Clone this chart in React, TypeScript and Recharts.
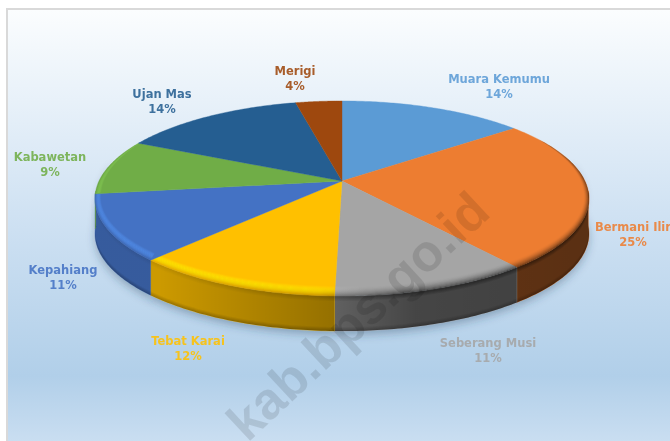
import React from "react";
import { PieChart, Pie } from "recharts";

const categories = ["Muara Kemumu", "Bermani Ilir", "Seberang Musi", "Tebat Karai", "Kepahiang", "Kabawetan", "Ujan Mas", "Merigi"];
const shares = [14.4, 25.0, 11.0, 11.6, 10.9, 9.2, 14.3, 3.6];
const colors = ["#5b9bd5", "#ed7d31", "#a5a5a5", "#ffc000", "#4472c4", "#70ad47", "#255e91", "#9e480e"];
const rimColors = ["#6fb0e8", "#ff9a4a", "#b8b8b8", "#ffe600", "#4f8ae6", "#7fc450", "#2f73ae", "#b55a18"];
const rows = categories.map((name, i) => ({ name, value: shares[i], fill: colors[i], rim: rimColors[i] }));

const W = 670, H = 441;
const CX = 342, CY = 181, R = 243;
const PERSPECTIVE = 0.1795, TILT = 0.3885, WALL = 35;
// Excel-style "best fit" label centres, one per category
const labelSpots: [number, number][] = [[499, 79], [633, 227], [488, 343], [188, 341], [63, 270], [50, 157], [162, 94], [295, 71]];

const project = (p: any, deg: number, r = 1, dy = 0): [number, number] => {
  const a = (deg * Math.PI) / 180;
  const s = Math.sin(a), c = Math.cos(a);
  const den = 1 + PERSPECTIVE * r * c;
  return [p.cx + (p.outerRadius * r * s) / den, p.cy - (p.outerRadius * TILT * r * c) / den + dy];
};
const sweep = (from: number, to: number, n = 48) => Array.from({ length: n + 1 }, (_, i) => from + ((to - from) * i) / n);
const toPath = (pts: [number, number][]) => "M" + pts.map((q) => q[0].toFixed(2) + " " + q[1].toFixed(2)).join("L") + "Z";
const frontWeight = (deg: number) => Math.min(1, Math.max(0, (0.5 - Math.cos((deg * Math.PI) / 180)) / 0.6));
const inset = (p: any, deg: number, amount: number): [number, number] => {
  const a = (deg * Math.PI) / 180;
  const [x, y] = project(p, deg);
  const w = frontWeight(deg) * amount;
  return [x - Math.sin(a) * 6 * w, y + Math.cos(a) * 10 * w];
};

const angles = (p: any) => [90 - p.startAngle, 90 - p.endAngle];

const ShadowShape = (p: any) => {
  const [a, b] = angles(p);
  const from = Math.max(a, 80), to = Math.min(b, 280);
  if (to <= from) return <g />;
  const outer = sweep(from, to).map((d) => project(p, d, 1.0, WALL + 4));
  const inner = sweep(to, from).map((d) => project(p, d, 0.98, 0));
  return <path d={toPath([...outer, ...inner])} fill="#24425f" fillOpacity={0.35} filter="url(#pieBlur)" />;
};

const WallShape = (p: any) => {
  const [a, b] = angles(p);
  const from = Math.max(a, 96), to = Math.min(b, 264);
  if (to <= from) return <g />;
  const d = toPath([...sweep(from, to).map((t) => project(p, t)), ...sweep(to, from).map((t) => project(p, t, 1, WALL))]);
  const foot = [0, 1, 2, 3].map((i) =>
    toPath([...sweep(from, to).map((t) => project(p, t, 1, WALL - 4 + i)), ...sweep(to, from).map((t) => project(p, t, 1, WALL - 3 + i))])
  );
  return (
    <g>
      <path d={d} fill={p.fill} stroke={p.fill} strokeWidth={0.4} />
      <path d={d} fill="url(#wallShade)" />
      {foot.map((f, i) => <path key={i} d={f} fill="#000" fillOpacity={0.05 + i * 0.06} />)}
    </g>
  );
};

const TopShape = (p: any) => {
  const [a, b] = angles(p);
  const arc = sweep(a, b, 72);
  const top = toPath([[p.cx, p.cy], ...arc.map((t) => project(p, t))]);
  const strips = 10;
  const ring = (u0: number, u1: number) =>
    toPath([...arc.map((t) => inset(p, t, 1 - u0)), ...[...arc].reverse().map((t) => inset(p, t, 1 - u1))]);
  const lip = (t0: number, t1: number) => {
    const f = Math.max(a, 96), g = Math.min(b, 264);
    if (g <= f) return "";
    const s = sweep(f, g);
    return toPath([...s.map((t) => project(p, t, 1, t0 * frontWeight(t))), ...[...s].reverse().map((t) => project(p, t, 1, t1 * frontWeight(t)))]);
  };
  const gid = "rimGlow" + p.index;
  return (
    <g>
      <defs>
        <linearGradient id={gid} gradientUnits="userSpaceOnUse" x1={95} x2={588} y1={0} y2={0}>
          <stop offset="0" stopColor={p.rim} stopOpacity={1} />
          <stop offset="0.45" stopColor={p.rim} stopOpacity={0.8} />
          <stop offset="0.55" stopColor={p.rim} stopOpacity={0} />
        </linearGradient>
      </defs>
      <path d={top} fill={p.fill} stroke={p.fill} strokeWidth={0.4} />
      {Array.from({ length: strips }, (_, i) => {
        const u0 = i / strips, u1 = (i + 1) / strips, u = (u0 + u1) / 2;
        return (
          <g key={i}>
            <path d={ring(u0, u1)} fill={"url(#" + gid + ")"} fillOpacity={Math.sin(Math.PI * Math.min(1, u * 1.1))} />
            <path d={ring(u0, u1)} fill="url(#rimDark)" fillOpacity={u * u} />
          </g>
        );
      })}
      {[0, 1, 2, 3, 4].map((i) => {
        const d = lip(i, i + 1);
        return d ? <path key={"l" + i} d={d} fill="url(#rimDark)" fillOpacity={0.8 - i * 0.16} /> : null;
      })}
    </g>
  );
};

const renderLabel = (p: any) => {
  const i = p.index;
  const [x, y] = labelSpots[i];
  return (
    <text key={i} x={x} y={y} textAnchor="middle" fill={colors[i]} fillOpacity={0.88} fontFamily="'DejaVu Sans', sans-serif" fontWeight="bold" fontSize={11.5}>
      <tspan x={x} y={y + 4}>{p.name}</tspan>
      <tspan x={x} y={y + 19}>{Math.round(p.percent * 100)}%</tspan>
    </text>
  );
};

export default function App() {
  const pieProps = { data: rows, dataKey: "value", nameKey: "name", cx: CX, cy: CY, outerRadius: R, startAngle: 90, endAngle: -270, stroke: "none", isAnimationActive: false };
  return (
    <div style={{ position: "absolute", left: 0, top: 0, width: W, height: H, overflow: "hidden", background: "#fff", filter: "blur(0.35px)" }}>
      <div style={{ position: "absolute", left: 6, top: 8, right: -10, bottom: -10, borderLeft: "2.5px solid #d9d9d9", borderTop: "2.5px solid #d9d9d9", background: "linear-gradient(180deg,#fbfdfe 0%,#d0e2f3 46%,#b1cfe9 83%,#cde0f2 100%)" }} />
      <svg width={0} height={0} style={{ position: "absolute" }}>
        <defs>
          <filter id="pieBlur" x="-20%" y="-20%" width="140%" height="140%"><feGaussianBlur stdDeviation="4" /></filter>
          <linearGradient id="wallShade" gradientUnits="userSpaceOnUse" x1={95} x2={588} y1={0} y2={0}>
            <stop offset="0" stopColor="#000" stopOpacity={0.2} />
            <stop offset="0.13" stopColor="#000" stopOpacity={0.2} />
            <stop offset="0.49" stopColor="#000" stopOpacity={0.42} />
            <stop offset="0.65" stopColor="#000" stopOpacity={0.58} />
            <stop offset="1" stopColor="#000" stopOpacity={0.62} />
          </linearGradient>
          <linearGradient id="rimDark" gradientUnits="userSpaceOnUse" x1={95} x2={588} y1={0} y2={0}>
            <stop offset="0" stopColor="#000" stopOpacity={0.06} />
            <stop offset="0.45" stopColor="#000" stopOpacity={0.2} />
            <stop offset="0.62" stopColor="#000" stopOpacity={0.55} />
            <stop offset="1" stopColor="#000" stopOpacity={0.6} />
          </linearGradient>
        </defs>
      </svg>
      <div style={{ position: "absolute", left: 0, top: 0 }}>
        <PieChart width={W} height={H} margin={{ top: 0, right: 0, bottom: 0, left: 0 }}>
          <Pie {...pieProps} shape={ShadowShape} />
          <Pie {...pieProps} shape={WallShape} />
          <Pie {...pieProps} shape={TopShape} label={renderLabel} labelLine={false} />
        </PieChart>
      </div>
      <svg width={W} height={H} style={{ position: "absolute", left: 0, top: 0, pointerEvents: "none" }}>
        <text transform="translate(370,329) rotate(-43)" textAnchor="middle" fontFamily="'Liberation Sans', Arial, sans-serif" fontWeight="bold" fontSize={52} fill="#000" fillOpacity={0.11}>kab.bps.go.id</text>
      </svg>
    </div>
  );
}
